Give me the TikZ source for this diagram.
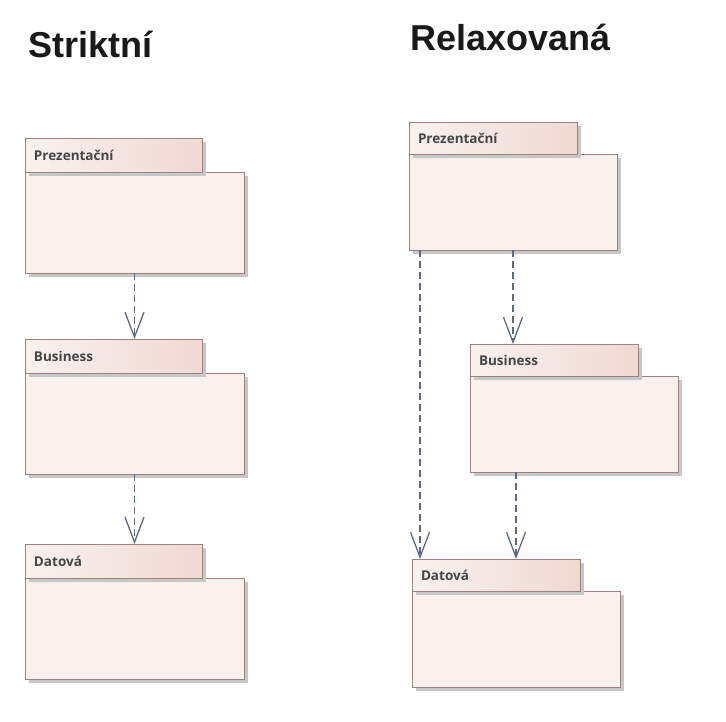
\documentclass[tikz,border=0pt]{standalone}
\usepackage{fontspec}
\setmainfont{Liberation Sans}
\newfontfamily\pkgfont{Open Sans}
\usetikzlibrary{positioning, arrows.meta, shadows}
\definecolor{pkgline}{HTML}{9E8282}
\definecolor{pkgfill}{HTML}{FAF1EE}
\definecolor{tabright}{HTML}{EFDAD3}
\definecolor{deparrow}{HTML}{5E6A82}
\definecolor{pkgtext}{HTML}{464646}
\tikzset{
    x=1pt, y=-1pt,
    every node/.style={outer sep=0pt}, % anchors sit on the border
    body/.style={draw=pkgline, line width=1pt, fill=pkgfill, anchor=north west,
        drop shadow={shadow xshift=4pt, shadow yshift=-4pt, fill=black!22, opacity=1}},
    tab/.style={draw=pkgline, line width=1pt, left color=pkgfill, right color=tabright,
        minimum height=#1, inner xsep=9pt, inner ysep=0pt, align=left,
        font=\pkgfont\bfseries\fontsize{13.5}{16}\selectfont, text=pkgtext,
        drop shadow={shadow xshift=4pt, shadow yshift=-4pt, fill=black!22, opacity=1}},
    title/.style={anchor=base west, inner sep=0pt, text=black!90,
        font=\bfseries\fontsize{36}{40}\selectfont},
    dep/.style={draw=deparrow, line width=1.3pt, dash pattern=on 7pt off 4pt,
        -{Straight Barb[length=25pt, width=19pt, line width=1.3pt]}}, % open V head
}
\begin{document}
\begin{tikzpicture}
    \useasboundingbox (0,0) rectangle (726,721);
    % titles
    \node[title] (striktni) at (28.5,57) {Striktní};
    \node[title] (relax) at (410.5,50) {Relaxovaná};
    % strict layering
    \node[body, minimum width=219pt, minimum height=101pt] (p1) at (25,172) {};
    \node[tab=34pt, text width=159pt, above right=0pt and 0pt of p1.north west] (p1tab) {Prezentační};
    \node[body, minimum width=219pt, minimum height=101pt] (b1) at (25,373) {};
    \node[tab=34pt, text width=159pt, above right=0pt and 0pt of b1.north west] (b1tab) {Business};
    \node[body, minimum width=219pt, minimum height=101pt] (d1) at (25,578) {};
    \node[tab=34pt, text width=159pt, above right=0pt and 0pt of d1.north west] (d1tab) {Datová};
    % relaxed layering
    \node[body, minimum width=208pt, minimum height=96pt] (p2) at (409,154) {};
    \node[tab=32pt, text width=150pt, above right=0pt and 0pt of p2.north west] (p2tab) {Prezentační};
    \node[body, minimum width=208pt, minimum height=96pt] (b2) at (470,376) {};
    \node[tab=32pt, text width=150pt, above right=0pt and 0pt of b2.north west] (b2tab) {Business};
    \node[body, minimum width=208pt, minimum height=96pt] (d2) at (412,591) {};
    \node[tab=32pt, text width=150pt, above right=0pt and 0pt of d2.north west] (d2tab) {Datová};
    % dependencies
    \draw[dep] (p1.south) -- (p1.south |- b1tab.north);
    \draw[dep] (b1.south) -- (b1.south |- d1tab.north);
    \draw[dep] (p2.south) -- (p2.south |- b2tab.north);
    \draw[dep] ([xshift=11pt]p2.south west) -- ([xshift=11pt]p2.south west |- d2tab.north);
    \draw[dep] ([xshift=46pt]b2.south west) -- ([xshift=46pt]b2.south west |- d2tab.north);
\end{tikzpicture}
\end{document}
